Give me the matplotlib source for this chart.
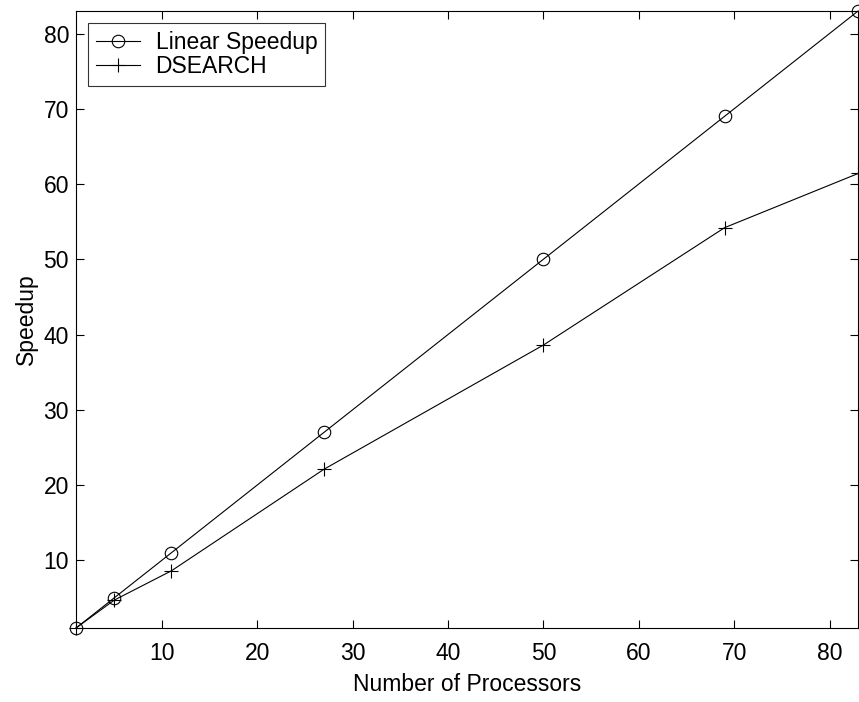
import matplotlib
matplotlib.use("Agg")
import matplotlib.pyplot as plt

processors = [1, 5, 11, 27, 50, 69, 83]
linear_speedup = [1, 5, 11, 27, 50, 69, 83]
dsearch = [1, 4.7, 8.6, 22.1, 38.6, 54.2, 61.4]
xticks = [10, 20, 30, 40, 50, 60, 70, 80]
yticks = [10, 20, 30, 40, 50, 60, 70, 80]

plt.rcParams['font.family'] = ['Liberation Sans', 'DejaVu Sans']
FS = 16.5

fig = plt.figure(figsize=(8.59, 7.02), dpi=100)
ax = fig.add_axes([0.0885, 0.1054, 0.9105, 0.879])

ax.plot(processors, linear_speedup, color='black', lw=0.8, marker='o',
        markersize=9, markerfacecolor='none', markeredgewidth=0.8,
        label='Linear Speedup', clip_on=False)
ax.plot(processors, dsearch, color='black', lw=0.8, marker='+',
        markersize=10, markeredgewidth=0.8, label='DSEARCH', clip_on=False)

ax.set_xlim(1, 83)
ax.set_ylim(1, 83)
ax.set_xticks(xticks)
ax.set_yticks(yticks)
ax.tick_params(direction='in', top=True, right=True, labelsize=FS,
               length=6, width=0.8)
ax.tick_params(axis='x', pad=10)
ax.tick_params(axis='y', pad=5)
for s in ax.spines.values():
    s.set_linewidth(0.8)

ax.set_xlabel('Number of Processors', fontsize=FS, labelpad=6)
ax.set_ylabel('Speedup', fontsize=FS, labelpad=4)

leg = ax.legend(loc='upper left', fontsize=FS, frameon=True, fancybox=False,
                edgecolor='black', borderpad=0.35, handlelength=1.9,
                handletextpad=0.7, labelspacing=0.05,
                bbox_to_anchor=(0.0153, 0.9805), borderaxespad=0)
leg.get_frame().set_linewidth(0.8)

fig.savefig('out.png', dpi=100)
